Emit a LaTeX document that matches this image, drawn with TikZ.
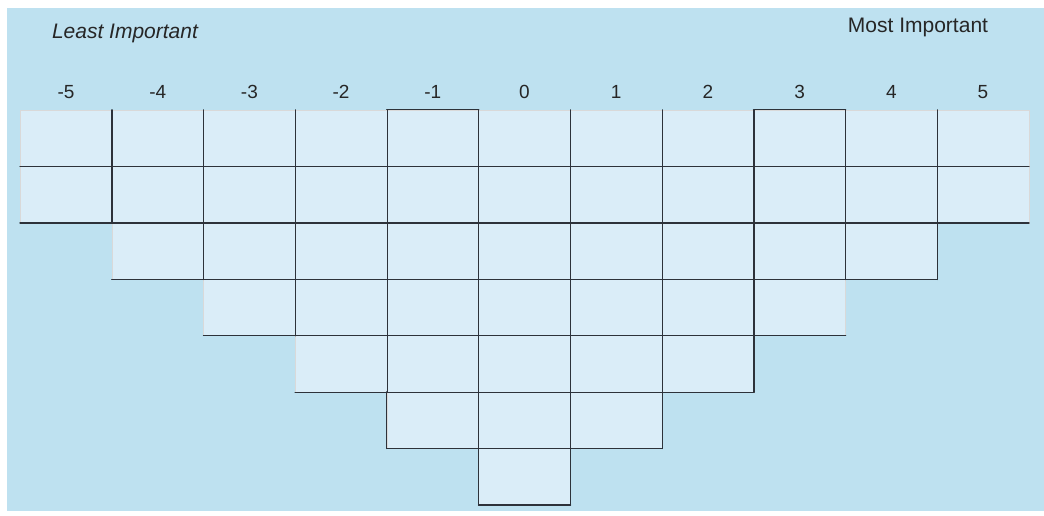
\documentclass[tikz,border=0pt]{standalone}
\usepackage{fontspec}
\setmainfont{Liberation Sans}
\usetikzlibrary{positioning}
\definecolor{wallblue}{RGB}{190,225,240}
\definecolor{cardblue}{RGB}{218,237,248}
\definecolor{penline}{RGB}{45,50,58}

\begin{document}
\begin{tikzpicture}[x=1pt, y=-1pt,
    card/.style={draw=black!15, fill=cardblue, line width=0.4pt,
                 minimum width=91.7pt, minimum height=56.4pt, inner sep=0pt},
    colnum/.style={font=\fontsize{19}{22}\selectfont, text=black!85},
    heading/.style={font=\fontsize{21}{24}\selectfont, text=black!85},
    pen/.style={draw=penline, line width=1.2pt, line cap=round}
]
\fill[white] (0,0) rectangle (1044,515);
\fill[wallblue] (7,8) rectangle (1044,511);
\useasboundingbox (0,0) rectangle (1044,515);

% headings
\node[heading] (least) at (125,33) {\itshape Least Important};
\node[heading] (most) at (918,27) {Most Important};

% columns of cards, -5 ... 5
\foreach \k/\lab/\n in {1/-5/2, 2/-4/3, 3/-3/4, 4/-2/5, 5/-1/6, 6/0/7,
                        7/1/6, 8/2/5, 9/3/4, 10/4/3, 11/5/2} {
  \node[colnum] (lab\k) at ({66+91.7*(\k-1)},92) {\lab};
  \foreach \r in {1,...,\n}
    \node[card] (c\k-\r) at ({66+91.7*(\k-1)},{110+56.4*(\r-0.5)}) {};
}

% pen lines of the grid
\foreach \r/\a/\b in {1/1/11, 2/1/11, 3/2/10, 4/3/9, 5/4/8, 6/5/7, 7/6/6} {
  \draw[pen] (c\a-\r.south west) -- (c\b-\r.south east);
  \foreach \k in {\a,...,\b} {
    \ifnum\k<\b\relax
      \draw[pen] (c\k-\r.north east) -- (c\k-\r.south east);
    \fi
  }
}
\draw[pen] (c5-1.north west) -- (c5-1.north east);
\draw[pen] (c9-1.north west) -- (c9-1.north east);
\draw[pen] (c10-3.north east) -- (c10-3.south east);
\draw[pen] (c8-5.north east) -- (c8-5.south east);
\draw[pen] (c5-6.north west) -- (c5-6.south west);
\draw[pen] (c7-6.north east) -- (c7-6.south east);
\draw[pen] (c6-7.north west) -- (c6-7.south west);
\draw[pen] (c6-7.north east) -- (c6-7.south east);
\end{tikzpicture}
\end{document}
